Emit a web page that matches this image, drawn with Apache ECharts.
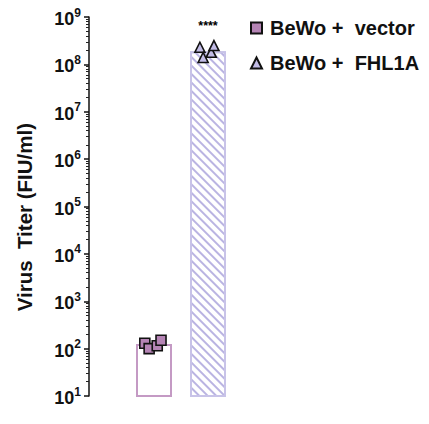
<!DOCTYPE html>
<html><head><meta charset="utf-8">
<script src="https://cdn.jsdelivr.net/npm/echarts@6/dist/echarts.min.js"></script>
<style>html,body{margin:0;padding:0;background:#fff}#c{width:429px;height:424px}</style>
</head><body><div id="c"></div>
<script>
var groups = ['BeWo + vector', 'BeWo + FHL1A'];
var barMeans = [125, 1.9e8];
var vectorPoints = [130, 100, 115, 150];
var fhl1aPoints = [2.3e8, 1.4e8, 1.8e8, 2.5e8];
var vectorJitter = [-0.17, -0.09, 0.06, 0.13];
var fhl1aJitter = [-0.15, -0.09, 0.06, 0.11];
var significance = ['', '****'];
var yAxisTitle = 'Virus  Titer (FIU/ml)';
var majorTicks = [1e1, 1e2, 1e3, 1e4, 1e5, 1e6, 1e7, 1e8, 1e9];
var minorTicks = [];
for (var d = 1; d < 9; d++) for (var m = 2; m <= 9; m++) minorTicks.push(m * Math.pow(10, d));

var FONT = 'Liberation Sans, Arial, sans-serif';
var chart = echarts.init(document.getElementById('c'), null, {renderer: 'svg'});
chart.setOption({
  animation: false,
  grid: {left: 127, width: 108, top: 17, bottom: 28},
  graphic: [{
    type: 'text', left: 14, top: 123, rotation: Math.PI / 2,
    style: {text: yAxisTitle, fontFamily: FONT, fontWeight: 'bold', fontSize: 20.5, fill: '#111'}
  }],
  legend: {
    orient: 'vertical', left: 245, top: 13, itemGap: 15, itemWidth: 11, itemHeight: 11,
    data: groups,
    formatter: function (n) { return n.replace(' + ', ' +  '); },
    textStyle: {fontFamily: FONT, fontWeight: 'bold', fontSize: 20, color: '#111', padding: [0, 0, 0, 3]}
  },
  xAxis: [
    {type: 'category', data: groups, show: false},
    {type: 'value', min: -0.5, max: 1.5, show: false}
  ],
  yAxis: [
    {
      type: 'log', logBase: 10, min: 10, max: 1e9, offset: 38, position: 'left',
      axisLine: {show: true, onZero: false, lineStyle: {color: '#111', width: 1.5}},
      axisTick: {show: true, length: 5, customValues: majorTicks, lineStyle: {color: '#111', width: 1.5}},
      splitLine: {show: false},
      axisLabel: {
        customValues: majorTicks, margin: 8,
        formatter: function (v) { return '{b|10}{s|' + Math.round(Math.log10(v)) + '}'; },
        rich: {
          b: {fontFamily: FONT, fontWeight: 'bold', fontSize: 18, color: '#111', padding: [4, 0, 0, 0]},
          s: {fontFamily: FONT, fontWeight: 'bold', fontSize: 12, color: '#111', padding: [0, 0, 9, 0]}
        }
      }
    },
    {
      type: 'log', logBase: 10, min: 10, max: 1e9, offset: 38, position: 'left',
      axisLine: {show: false, onZero: false}, axisLabel: {show: false}, splitLine: {show: false},
      axisTick: {show: true, length: 3, customValues: minorTicks, lineStyle: {color: '#222', width: 1}}
    }
  ],
  series: [
    {
      type: 'bar', xAxisIndex: 0, yAxisIndex: 0, barWidth: 36,
      data: [
        {value: barMeans[0], itemStyle: {color: '#fff', borderColor: '#c49ac4', borderWidth: 2}},
        {value: barMeans[1], itemStyle: {color: '#fff', borderColor: '#c8c3e8', borderWidth: 2,
          decal: {symbol: 'rect', symbolSize: 1, dashArrayX: [1, 0], dashArrayY: [2, 3.2], rotation: Math.PI / 4, color: '#bab4e2'}}}
      ],
      label: {show: true, position: 'top', distance: 19, formatter: function (p) { return significance[p.dataIndex]; },
        fontFamily: FONT, fontWeight: 'bold', fontSize: 12.5, color: '#000'},
      z: 1
    },
    {
      name: groups[0], type: 'scatter', xAxisIndex: 1, yAxisIndex: 0, symbol: 'rect', symbolSize: 10,
      itemStyle: {color: '#b584b5', borderColor: '#111', borderWidth: 1.6, opacity: 1},
      data: vectorPoints.map(function (v, i) { return [0 + vectorJitter[i], v]; }), z: 3
    },
    {
      name: groups[1], type: 'scatter', xAxisIndex: 1, yAxisIndex: 0, symbol: 'triangle', symbolSize: 10,
      itemStyle: {color: '#c2bce6', borderColor: '#111', borderWidth: 1.6, opacity: 1},
      data: fhl1aPoints.map(function (v, i) { return [1 + fhl1aJitter[i], v]; }), z: 3
    }
  ]
});
</script></body></html>
